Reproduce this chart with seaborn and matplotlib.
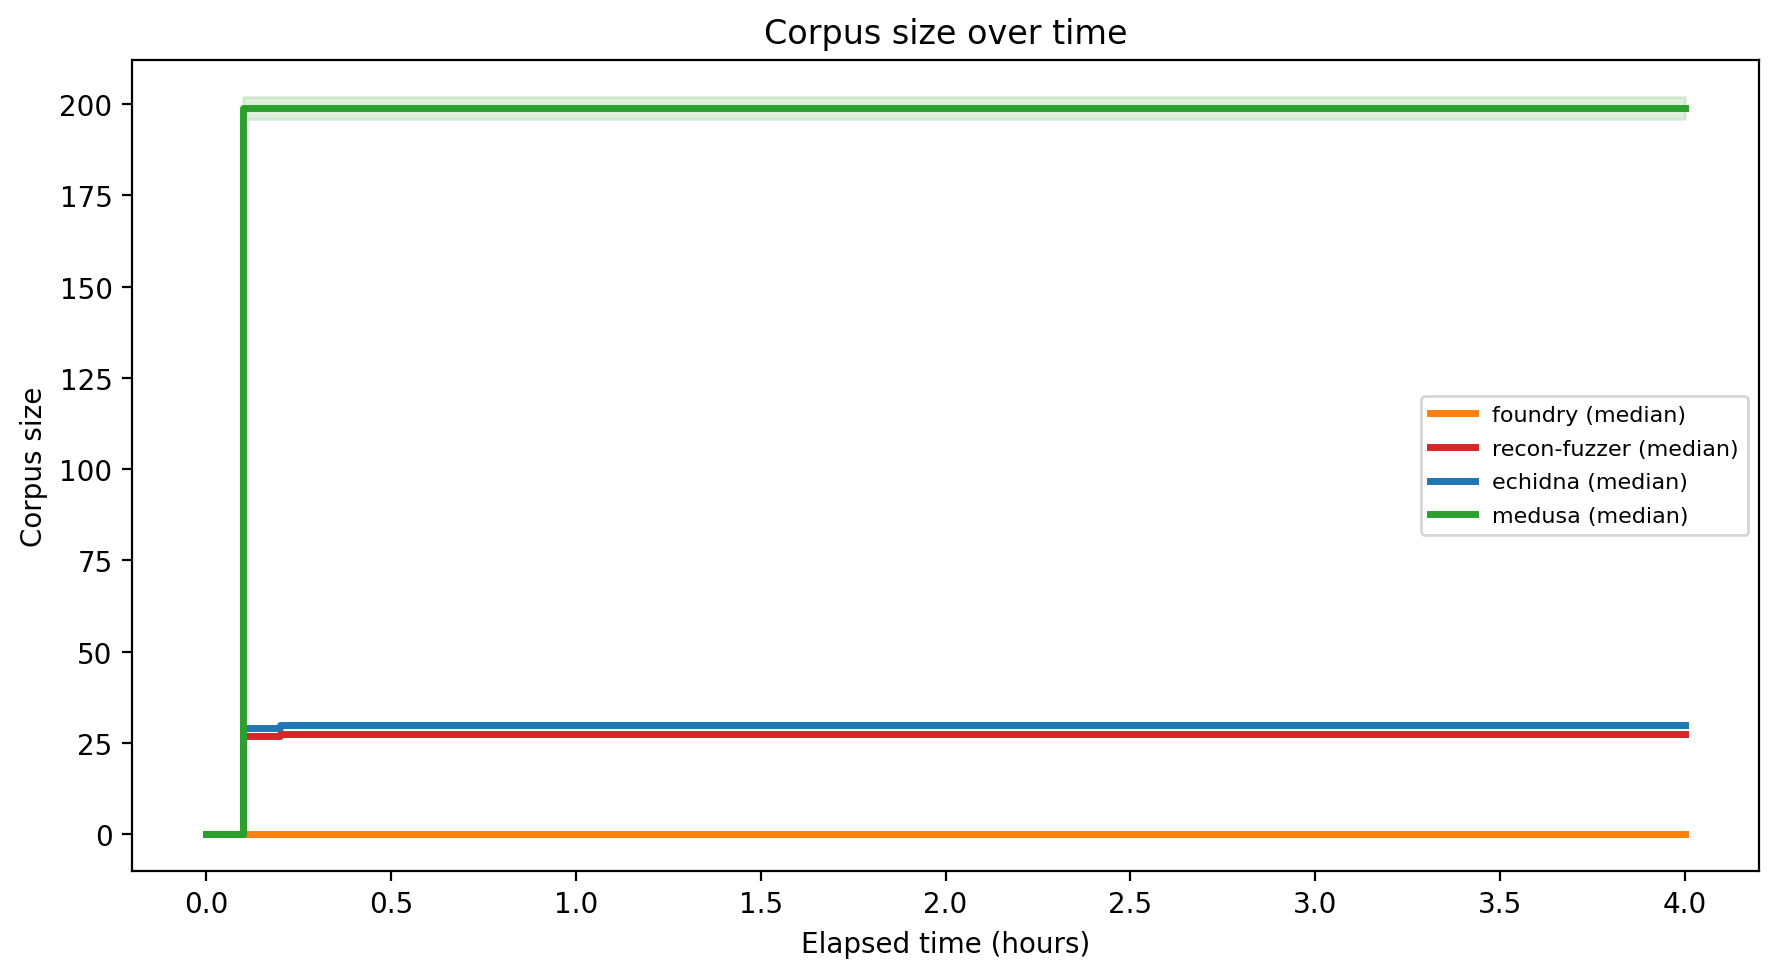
import matplotlib
matplotlib.use("Agg")
import matplotlib.pyplot as plt
import seaborn as sns

# elapsed time (hours) where the medians change
hours = [0.0, 0.1, 0.2, 4.0]

# median corpus size per fuzzer
foundry = [0, 0, 0, 0]
recon_fuzzer = [0, 27, 27.5, 27.5]
echidna = [0, 29, 30, 30]
medusa = [0, 199, 199, 199]

# min / max band for medusa
medusa_lo = [0, 196, 196, 196]
medusa_hi = [0, 202, 202, 202]

fig, ax = plt.subplots(figsize=(1779 / 200, 978 / 200), dpi=200)
fig.subplots_adjust(left=0.0742, right=0.9888, top=0.9376, bottom=0.1084)

series = [
    ("foundry (median)", foundry, "tab:orange"),
    ("recon-fuzzer (median)", recon_fuzzer, "tab:red"),
    ("echidna (median)", echidna, "tab:blue"),
]
for name, vals, col in series:
    sns.lineplot(x=hours, y=vals, color=col, lw=2.5, label=name,
                 drawstyle="steps-post", errorbar=None, ax=ax)

ax.fill_between(hours, medusa_lo, medusa_hi, step="post",
                color="tab:green", alpha=0.15)
sns.lineplot(x=hours, y=medusa, color="tab:green", lw=2.5, label="medusa (median)",
             drawstyle="steps-post", errorbar=None, ax=ax)

ax.set_title("Corpus size over time")
ax.set_xlabel("Elapsed time (hours)")
ax.set_ylabel("Corpus size")
ax.legend(loc="center right", fontsize=8, labelspacing=0.62)

fig.savefig("out.png", dpi=200)
